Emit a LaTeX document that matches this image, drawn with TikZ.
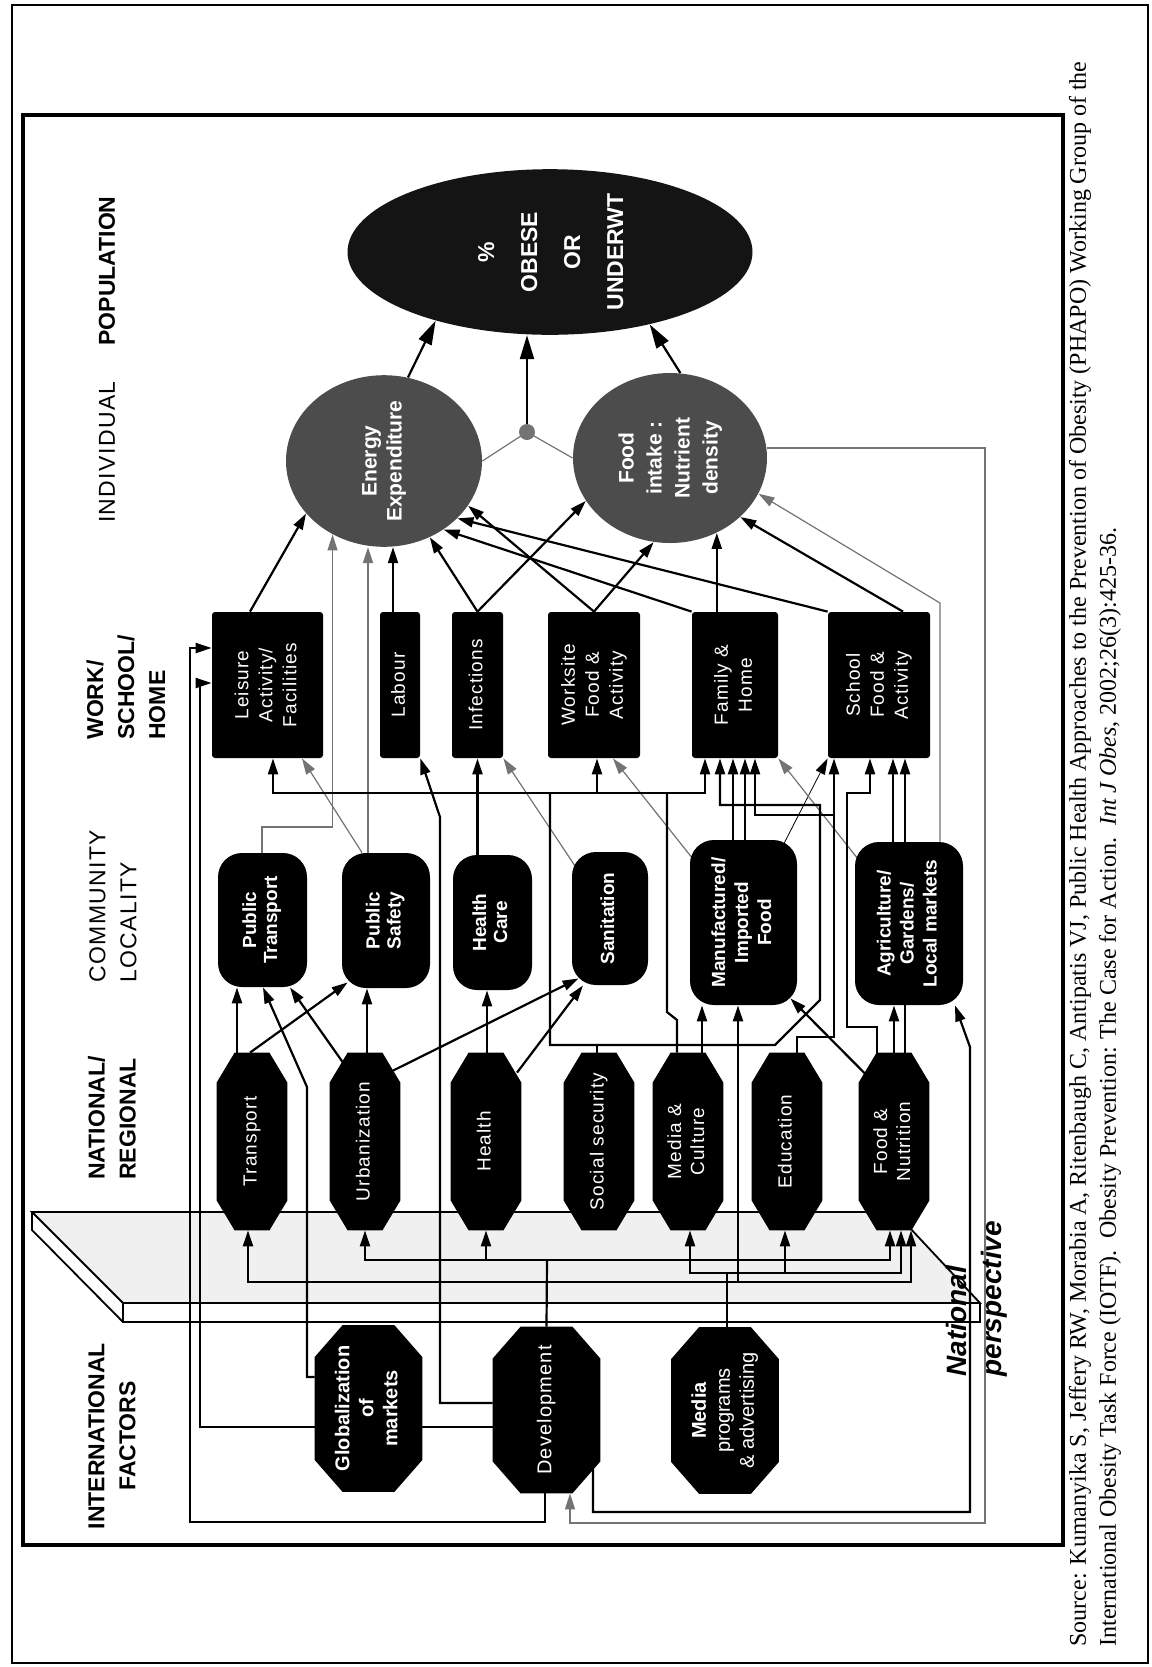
\documentclass[tikz,border=0pt]{standalone}
\usepackage{fontspec}
\setmainfont{Liberation Serif}
\setsansfont{Liberation Sans}
\newfontfamily\spaced[LetterSpace=6]{Liberation Sans}
\usepackage{graphicx}
\usetikzlibrary{shapes.geometric,arrows.meta,calc}

\pgfdeclarelayer{slab}
\pgfdeclarelayer{wires}
\pgfdeclarelayer{plates}
\pgfsetlayers{slab,wires,plates,main}

% text turned to read from bottom to top
\newcommand{\vt}[1]{\rotatebox{90}{\begin{tabular}{@{}c@{}}#1\end{tabular}}}

\tikzset{
  intlbox/.style={rectangle, text=white, inner sep=0pt,
    minimum width=53.5pt, minimum height=83pt,
    font=\sffamily\bfseries\fontsize{10}{12}\selectfont},
  natlbox/.style={rectangle, text=white, inner sep=0pt,
    minimum width=35pt, minimum height=88.5pt,
    font=\spaced\fontsize{9.5}{11.5}\selectfont},
  commbox/.style={rectangle, rounded corners=12pt, fill=black, text=white,
    inner sep=0pt, font=\sffamily\bfseries\fontsize{9.5}{10.5}\selectfont},
  workbox/.style={rectangle, rounded corners=1.5pt, fill=black, text=white,
    inner sep=0pt, minimum height=73pt,
    font=\spaced\fontsize{9.5}{12}\selectfont},
  indivbox/.style={ellipse, fill=black!70, text=white, inner sep=0pt,
    font=\sffamily\bfseries\fontsize{10.5}{12.5}\selectfont},
  colhead/.style={rotate=90, align=left, inner sep=0pt,
    font=\sffamily\bfseries\fontsize{11.5}{15.5}\selectfont},
  colheadlt/.style={colhead, font=\spaced\fontsize{11.5}{15.5}\selectfont},
  bk/.style={line width=1.1pt},
  gy/.style={line width=0.6pt, black!55},
  arr/.style={-{Triangle[length=8pt,width=5pt]}},
  bigarr/.style={-{Triangle[length=12pt,width=7pt]}},
}

\begin{document}
\begin{tikzpicture}[x=0.5pt, y=-0.5pt]
\useasboundingbox (0,0) rectangle (1152,1667);

% frames
\draw[line width=1pt] (12,5) rectangle (1148,1663);
\draw[line width=2pt] (23,115) rectangle (1063,1545);

% column heads
\node[colhead, align=center] (hintl) at (112,1436) {INTERNATIONAL\\FACTORS};
\node[colhead, anchor=west] (hnatl) at (112,1180) {NATIONAL/\\REGIONAL};
\node[colheadlt, anchor=west] (hcomm) at (113,983) {COMMUNITY\\LOCALITY};
\node[colhead, anchor=west] (hwork) at (126,740) {WORK/\\SCHOOL/\\HOME};
\node[colheadlt] (hindiv) at (107,452) {INDIVIDUAL};
\node[colhead] (hpop) at (107,271) {POPULATION};

% international factors
\node[intlbox] (glob) at (368.5,1408.5) {\vt{Globalization\\of\\markets}};
\node[intlbox, font=\spaced\fontsize{10}{12}\selectfont] (devel) at (546.5,1410) {\vt{Development}};
\node[intlbox] (mprog) at (725,1410.5) {\vt{Media\\{\mdseries programs}\\{\mdseries\& advertising}}};

% national / regional
\node[natlbox] (transp)  at (252,1141.5) {\vt{Transport}};
\node[natlbox] (urban)   at (365,1141.5) {\vt{Urbanization}};
\node[natlbox] (health)  at (486,1141.5) {\vt{Health}};
\node[natlbox] (socsec)  at (599,1141.5) {\vt{Social security}};
\node[natlbox] (media)   at (688,1141.5) {\vt{Media \&\\Culture}};
\node[natlbox] (educ)    at (787,1141.5) {\vt{Education}};
\node[natlbox] (foodnut) at (894,1141.5) {\vt{Food \&\\Nutrition}};

% community / locality
\node[commbox, minimum width=44.5pt, minimum height=67pt] (ptrans) at (262.5,920) {\vt{Public\\Transport}};
\node[commbox, minimum width=44pt, minimum height=67.5pt] (psafe) at (386,920.5) {\vt{Public\\Safety}};
\node[commbox, minimum width=39.5pt, minimum height=67.5pt] (hcare) at (492.5,922.5) {\vt{Health\\Care}};
\node[commbox, minimum width=38pt, minimum height=66.5pt] (sanit) at (610,918.5) {\vt{Sanitation}};
\node[commbox, minimum width=53.5pt, minimum height=82.5pt, font=\sffamily\bfseries\fontsize{9.5}{11.5}\selectfont] (manuf) at (743.5,922.5) {\vt{Manufactured/\\Imported\\Food}};
\node[commbox, minimum width=54pt, minimum height=81.5pt, font=\sffamily\bfseries\fontsize{9.5}{11.5}\selectfont] (agri) at (909,923.5) {\vt{Agriculture/\\Gardens/\\Local markets}};

% work / school / home
\node[workbox, minimum width=55.5pt] (leisure) at (267.5,685) {\vt{Leisure\\Activity/\\Facilities}};
\node[workbox, minimum width=20pt] (labour) at (400,685) {\vt{Labour}};
\node[workbox, minimum width=25.5pt] (infect) at (477.5,685) {\vt{Infections}};
\node[workbox, minimum width=46pt] (worksite) at (594,685) {\vt{Worksite\\Food \&\\Activity}};
\node[workbox, minimum width=43pt] (family) at (735,685) {\vt{Family \&\\Home}};
\node[workbox, minimum width=51pt] (school) at (879,685) {\vt{School\\Food \&\\Activity}};

% individual and population
\node[indivbox, minimum width=98pt, minimum height=85pt] (energy) at (384,461) {\vt{Energy\\Expenditure}};
\node[indivbox, minimum width=97pt, minimum height=85pt, font=\sffamily\bfseries\fontsize{10.5}{14}\selectfont] (foodin) at (670,458) {\vt{Food\\intake :\\Nutrient\\density}};
\node[circle, fill=black!55, minimum size=8pt, inner sep=0pt] (dot) at (527,432) {};
\node[ellipse, fill=black!92, text=white, inner sep=0pt, minimum width=202.5pt, minimum height=78.5pt,
  font=\sffamily\bfseries\fontsize{11.5}{21.5}\selectfont] (popn) at (550,252) {\vt{\%\\OBESE\\OR\\UNDERWT}};

\node[rotate=90, anchor=west, align=left, inner sep=0pt,
  font=\sffamily\bfseries\itshape\fontsize{14}{17.5}\selectfont] (persp) at (977,1377) {National\\perspective};

\node[rotate=90, anchor=west, align=left, inner sep=0pt, font=\rmfamily\fontsize{12}{15}\selectfont] (source) at (1095,1647)
  {Source: Kumanyika S, Jeffery RW, Morabia A, Ritenbaugh C, Antipatis VJ, Public Health Approaches to the Prevention of Obesity (PHAPO) Working Group of the\\
   International Obesity Task Force (IOTF).\ \ Obesity Prevention: The Case for Action.\ \ \textit{Int J Obes},\ 2002;26(3):425-36.};

% octagon plates behind the factor names
\begin{pgfonlayer}{plates}
  \foreach \n/\cx/\cy in {glob/28/32, devel/28/32, mprog/28/32,
      transp/18/30, urban/18/30, health/18/30, socsec/18/30, media/18/30, educ/18/30, foodnut/18/30}
    \fill ($(\n.south west)+(\cx,0)$) -- ($(\n.south east)+(-\cx,0)$) -- ($(\n.south east)+(0,-\cy)$)
      -- ($(\n.north east)+(0,\cy)$) -- ($(\n.north east)+(-\cx,0)$) -- ($(\n.north west)+(\cx,0)$)
      -- ($(\n.north west)+(0,\cy)$) -- ($(\n.south west)+(0,-\cy)$) -- cycle;
\end{pgfonlayer}

% national perspective plane
\begin{pgfonlayer}{slab}
  \fill[black!6] (32,1212) -- (895,1212) -- (980,1303) -- (123,1303) -- cycle;
  \draw[line width=0.9pt] (32,1212) -- (895,1212) -- (980,1303) -- (123,1303) -- cycle;
  \draw[line width=0.9pt] (123,1303) -- (123,1322) -- (980,1322) -- (980,1303);
  \draw[line width=0.9pt] (32,1212) -- (32,1230) -- (123,1322);
\end{pgfonlayer}

\begin{pgfonlayer}{wires}
  % individual -> population
  \draw[bk, bigarr] (energy.74) -- (popn.211);
  \draw[bk, bigarr] (foodin.83) -- (popn.-36);
  \draw[gy] (energy.east) -- (dot.center) -- (foodin.west);
  \draw[bk, bigarr] (dot) -- (dot |- popn.south);

  % settings -> individual
  \draw[bk, arr] (leisure.north -| 250,0) -- (energy.214);
  \draw[bk, arr] (labour.north -| 393,0) -- (energy.south -| 393,0);
  \draw[bk, arr] (infect.north) -- (energy.-59);
  \draw[bk, arr] (infect.north) -- (foodin.207);
  \draw[bk, arr] (worksite.north) -- (foodin.259);
  \draw[bk, arr] (worksite.north) -- (energy.-28);
  \draw[bk, arr] (family.north west) -- (energy.-49);
  \draw[bk, arr] (family.north -| foodin.-58) -- (foodin.-58);
  \draw[bk, arr] (school.north west) -- (energy.-38);
  \draw[bk, arr] (school.north -| 903,0) -- (foodin.-40);

  % community -> settings and individual
  \draw[gy, arr] (ptrans.north -| 262,0) |- (energy.-125 |- 0,827) -- (energy.-125);
  \draw[gy, line width=1pt, arr] (psafe.north -| 368,0) -- (energy.south -| 368,0);
  \draw[gy, arr] (psafe.north -| 362,0) -- (leisure.south -| 302,0);
  \draw[bk, arr] (infect.south |- hcare.north) -- (infect.south);
  \draw[gy, arr] (sanit.center) -- (infect.south east);
  \draw[gy, arr] (manuf.center) -- (worksite.south -| 613,0);
  \draw[bk, thin, arr] (manuf.center) -- (school.south west);
  \draw[gy, arr] (agri.center) -- (family.south east);
  \draw[gy, arr] (agri.north -| 940,0) -- (940,603) -- (foodin.-22);
  \draw[bk, arr] (manuf.north -| 733,0) -- (family.south -| 733,0);
  \draw[bk, arr] (manuf.north -| 745,0) -- (family.south -| 745,0);
  \draw[bk, arr] (agri.north -| 893,0) -- (school.south -| 893,0);

  % national -> community
  \draw[bk, arr] (transp.north -| 237,0) -- (ptrans.south -| 237,0);
  \draw[bk, arr] (transp.north -| 250,0) -- ($(psafe.south west)+(6,-6)$);
  \draw[bk, arr] ($(urban.north)+(-22,10)$) -- (ptrans.south -| 290,0);
  \draw[bk, arr] (urban.north -| 367,0) -- (psafe.south -| 367,0);
  \draw[bk, arr] ($(urban.north)+(28,18)$) -- ($(sanit.south west)+(7,-7)$);
  \draw[bk, arr] (health.north -| 487,0) -- (hcare.south -| 487,0);
  \draw[bk, arr] ($(health.north)+(31,20)$) -- (sanit.south -| 583,0);
  \draw[bk, arr] (media.north -| 702,0) -- (manuf.south -| 702,0);
  \draw[bk, arr] (foodnut.north) -- (agri.south -| foodnut.north);
  \draw[bk, arr] ($(foodnut.north)+(-28,22)$) -- ($(manuf.south east)+(-7,-7)$);
  \draw[bk, arr] (foodnut.north -| 905,0) -- (school.south -| 905,0);

  % national -> settings
  \coordinate (ssj) at (550,793);
  \coordinate (mcj) at (667,793);
  \draw[bk] (socsec.north -| 597,0) -- (597,1045);
  \draw[bk, arr] (ssj) |- (775,1045) -- (820,1000) |- (720,805) -- (family.south -| 720,0);
  \draw[bk, arr] (ssj) -| (leisure.south -| 273,0);
  \draw[bk, arr] (ssj) -| (worksite.south -| 597,0);
  \draw[bk, arr] (ssj) -| (family.south -| 705,0);
  \draw[bk] (media.north -| 677,0) -- (677,1020) -- (667,1012) -- (mcj);
  \draw[bk, arr] (educ.north -| 797,0) |- (834,1037) -- (school.south -| 834,0);
  \draw[bk, arr] (834,815) -| (family.south -| 755,0);
  \draw[bk, arr] (foodnut.north -| 877,0) |- (847,1027) |- (870,793) -- (school.south -| 870,0);

  % international -> national
  \coordinate (busa) at (547,1260);
  \coordinate (busb) at (547,1282);
  \coordinate (busc) at (727,1273);
  \draw[bk] (devel.north) -- (busa);
  \draw[bk, arr] (busa) -| (urban.south);
  \draw[bk, arr] (busa) -| (health.south);
  \draw[bk, arr] (busa) -| ($(foodnut.south)+(-4,0)$);
  \draw[bk, arr] (busb) -| (transp.south -| 248,0);
  \draw[bk, arr] (busb) -| (manuf.south -| 738,0);
  \draw[bk, arr] (busb) -| ($(foodnut.south)+(17,0)$);
  \draw[bk] (mprog.north -| 727,0) -- (busc);
  \draw[bk, arr] (busc) -| (media.south -| 690,0);
  \draw[bk, arr] (busc) -| (educ.south -| 785,0);
  \draw[bk, arr] (busc) -| ($(foodnut.south)+(7,0)$);

  % international -> community and settings
  \draw[bk, arr] (glob.west |- 0,1377) -| (307,1087) -- (ptrans.south -| 263,0);
  \draw[bk, arr] (devel.west |- 0,1403) -| (440,817) -- (labour.south east);
  \draw[bk, arr] (devel.south -| 545,0) |- (190,1522) |- (leisure.west |- 0,648);
  \draw[bk, arr] (devel.west |- 0,1427) -| (200,683) -- (leisure.west |- 0,683);
  \draw[bk, arr] (devel.center -| 593,0) |- (970,1512) -- (970,1047) -- (agri.south -| 955,0);
  \draw[gy, arr] (foodin.east |- 0,448) -| (985,1523) -| (devel.south -| 570,0);
\end{pgfonlayer}
\end{tikzpicture}
\end{document}
